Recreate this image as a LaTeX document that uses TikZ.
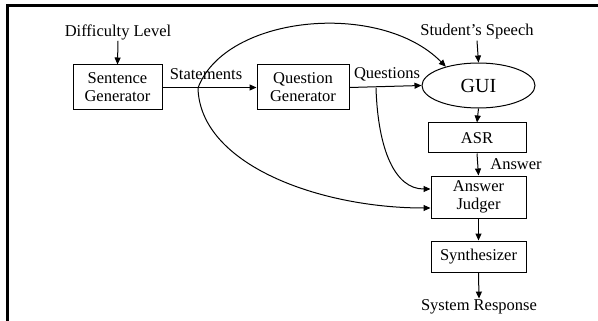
\documentclass[tikz,border=0pt]{standalone}
\usepackage{fontspec}
\setmainfont{Liberation Serif}
\usetikzlibrary{arrows.meta,shapes.geometric}
\begin{document}
\begin{tikzpicture}[x=1pt,y=-1pt,
  every node/.style={font=\fontsize{16.5}{18}\selectfont, inner sep=1pt},
  blk/.style={draw, line width=1pt, align=center, inner sep=0pt},
  lbl/.style={},
  conn/.style={line width=1pt, -{Triangle[length=7pt,width=6pt]}},
  frame/.style={line width=2.6pt}]
\useasboundingbox (0,0) rectangle (598,321);
\draw[frame] (7.5,321) -- (7.5,5.8) -- (598,5.8);
% nodes
\node[lbl] (dl) at (118,32) {Difficulty Level};
\node[lbl] (ss) at (477,32) {Student’s Speech};
\node[blk, minimum width=89pt, minimum height=45pt] (sg) at (117.5,87.5) {Sentence\\Generator};
\node[blk, minimum width=92pt, minimum height=45pt] (qg) at (303,87.5) {Question\\Generator};
\node[blk, ellipse, minimum width=113pt, minimum height=45pt, font=\fontsize{20}{21}\selectfont] (gui) at (478.5,85.5) {GUI};
\node[blk, minimum width=98pt, minimum height=30pt] (asr) at (477,138) {ASR};
\node[blk, minimum width=95pt, minimum height=42pt] (aj) at (478.5,197) {Answer\\Judger};
\node[blk, minimum width=95pt, minimum height=31pt] (syn) at (478.5,256.5) {Synthesizer};
\node[lbl] (sr) at (479,307) {System Response};
\node[lbl] (stl) at (206,74) {Statements};
\node[lbl] (ql) at (387,74) {Questions};
\node[lbl] (al) at (516,164) {Answer};
\coordinate (st) at (198,88);
\coordinate (qb) at (376,88);
% connectors
\draw[conn] (dl.south) -- (sg.north);
\draw[conn] (ss.south) -- (gui.north);
\draw[conn] (sg.east) -- (qg.west);
\draw[conn] (qg.east) -- (gui.west);
\draw[conn] (gui.south) -- (asr.north);
\draw[conn] (asr.south) -- (aj.north);
\draw[conn] (aj.south) -- (syn.north);
\draw[conn] (syn.south) -- (sr.north);
\draw[conn] (st) .. controls (225,15) and (380,0) .. (gui.150);
\draw[conn] (st) .. controls (200,165) and (320,208) .. (aj.west |- 0,208);
\draw[conn] (qb) .. controls (378,150) and (395,189) .. (aj.west |- 0,189);
\end{tikzpicture}
\end{document}
